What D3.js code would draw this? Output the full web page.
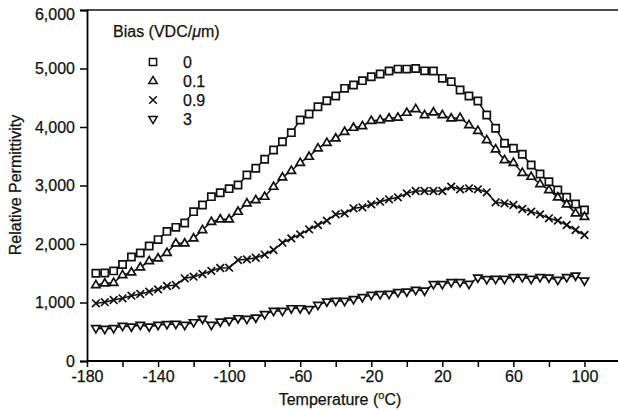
<!DOCTYPE html>
<html>
<head>
<meta charset="utf-8">
<script src="https://cdn.jsdelivr.net/npm/d3@7"></script>
<style>
  body { margin: 0; background: #fff; }
  svg { display: block; }
  text { font-family: "Liberation Sans", Arial, Helvetica, sans-serif; fill: #111; stroke: #111; stroke-width: 0.25; }
</style>
</head>
<body>
<div id="chart"></div>
<script>
// temperature (°C) of each measurement
const temps = [
  -175, -170, -165, -160, -155, -150, -145, -140, -135, -130, -125, -120, -115, -110,
  -105, -100, -95, -90, -85, -80, -75, -70, -65, -60, -55, -50, -45, -40,
  -35, -30, -25, -20, -15, -10, -5, 0, 5, 10, 15, 20, 25, 30,
  35, 40, 45, 50, 55, 60, 65, 70, 75, 80, 85, 90, 95, 100
];

// relative permittivity per bias field (VDC/um)
const bias0 = [
  1500, 1505, 1540, 1650, 1778, 1846, 1966, 2075, 2215, 2285, 2360, 2553, 2667, 2809,
  2877, 2946, 3009, 3180, 3294, 3448, 3607, 3749, 3903, 4120, 4222, 4347, 4450, 4530,
  4661, 4718, 4792, 4860, 4906, 4957, 4990, 4990, 5000, 4960, 4957, 4832, 4775, 4632,
  4530, 4444, 4205, 3978, 3721, 3636, 3533, 3350, 3197, 3065, 2923, 2798, 2684, 2581
];
const bias01 = [
  1299, 1328, 1338, 1470, 1516, 1601, 1709, 1755, 1851, 2012, 2012, 2097, 2239, 2381,
  2422, 2422, 2553, 2696, 2752, 2809, 2980, 3140, 3253, 3390, 3493, 3636, 3732, 3806,
  3920, 3989, 4017, 4108, 4120, 4148, 4162, 4245, 4308, 4205, 4251, 4205, 4148, 4159,
  4034, 3937, 3778, 3619, 3436, 3390, 3219, 3151, 3026, 2923, 2798, 2678, 2524, 2467
];
const bias09 = [
  986, 1005, 1043, 1072, 1116, 1145, 1185, 1225, 1282, 1299, 1414, 1441, 1487, 1540,
  1590, 1595, 1726, 1738, 1765, 1820, 1897, 2022, 2097, 2165, 2251, 2325, 2399, 2507,
  2524, 2610, 2627, 2678, 2723, 2764, 2798, 2866, 2906, 2906, 2906, 2906, 2980, 2935,
  2952, 2935, 2884, 2713, 2696, 2667, 2598, 2553, 2507, 2439, 2399, 2325, 2239, 2154
];
const bias3 = [
  559, 547, 559, 598, 587, 615, 587, 615, 627, 632, 615, 661, 720, 615,
  672, 689, 729, 718, 741, 798, 855, 855, 900, 900, 884, 957, 1014, 1026,
  1026, 1055, 1089, 1128, 1140, 1145, 1174, 1185, 1214, 1202, 1311, 1311, 1345, 1345,
  1316, 1424, 1397, 1402, 1402, 1431, 1431, 1402, 1431, 1424, 1385, 1431, 1459, 1373
];

const seriesLabels = ['0', '0.1', '0.9', '3'];
const seriesSymbols = ['square', 'triangle', 'cross', 'triangleDown'];
const seriesValues = [bias0, bias01, bias09, bias3];

const xTicks = [-180, -160, -140, -120, -100, -80, -60, -40, -20, 0, 20, 40, 60, 80, 100];
const xTickLabels = [-180, -140, -100, -60, -20, 20, 60, 100];
const yTicks = [0, 1000, 2000, 3000, 4000, 5000, 6000];

const width = 618, height = 411;
const svg = d3.select('#chart').append('svg')
  .attr('width', width).attr('height', height)
  .attr('viewBox', `0 0 ${width} ${height}`);

const x = d3.scaleLinear().domain([-180, 120]).range([87, 620]);
const y = d3.scaleLinear().domain([0, 6000]).range([361, 10]);

function markerPath(type) {
  switch (type) {
    case 'square': return 'M-3.6,-3.6H3.6V3.6H-3.6Z';
    case 'triangle': return 'M0,-4.6L4.2,2.6H-4.2Z';
    case 'triangleDown': return 'M0,4.6L4.2,-2.6H-4.2Z';
    case 'cross': return 'M-3.8,-3.8L3.8,3.8M-3.8,3.8L3.8,-3.8';
  }
}

// frame: top rule, left and bottom axes
svg.append('line')
  .attr('x1', x(-180)).attr('x2', width).attr('y1', y(6000)).attr('y2', y(6000))
  .attr('stroke', '#111').attr('stroke-width', 1.6);

const fmtX = d => (d < 0 ? '-' : '') + Math.abs(d);
const xAxis = svg.append('g').attr('transform', `translate(0,${y(0)})`)
  .call(d3.axisBottom(x).tickValues(xTicks).tickSize(6).tickPadding(4)
    .tickFormat(d => xTickLabels.includes(d) ? fmtX(d) : ''));
xAxis.select('.domain').attr('stroke-width', 1.8).attr('d', `M${x(-180)},0H${width}`);
xAxis.selectAll('.tick line').attr('stroke-width', 1.5);
xAxis.selectAll('text').attr('font-size', 16).attr('fill', '#111');

const yAxis = svg.append('g').attr('transform', `translate(${x(-180)},0)`)
  .call(d3.axisLeft(y).tickValues(yTicks).tickSize(7).tickPadding(5).tickFormat(d3.format(',')));
yAxis.select('.domain').attr('stroke-width', 1.8);
yAxis.selectAll('.tick line').attr('stroke-width', 1.5);
yAxis.selectAll('text').attr('font-size', 16).attr('fill', '#111');
yAxis.selectAll('.tick').filter(d => d === 6000).select('text').attr('dy', '0.6em');

// axis titles
svg.append('text')
  .attr('x', 340).attr('y', 405)
  .attr('text-anchor', 'middle').attr('font-size', 16)
  .html('Temperature (<tspan font-size="11" dy="-6">o</tspan><tspan dy="6">C)</tspan>');

svg.append('text')
  .attr('transform', 'translate(21,185) rotate(-90)')
  .attr('text-anchor', 'middle').attr('font-size', 16)
  .text('Relative Permittivity');

// series
const line = d3.line().x((d, i) => x(temps[i])).y(d => y(d));
seriesValues.forEach((vals, s) => {
  const g = svg.append('g');
  g.append('path').datum(vals)
    .attr('d', line).attr('fill', 'none')
    .attr('stroke', '#111').attr('stroke-width', 1.5);
  g.selectAll('path.mark').data(vals).join('path')
    .attr('class', 'mark')
    .attr('transform', (d, i) => `translate(${x(temps[i])},${y(d)})`)
    .attr('d', markerPath(seriesSymbols[s]))
    .attr('fill', seriesSymbols[s] === 'cross' ? 'none' : '#fff')
    .attr('stroke', '#111').attr('stroke-width', 1.7);
});

// legend
const legend = svg.append('g');
legend.append('text')
  .attr('x', 113).attr('y', 37).attr('font-size', 16)
  .html('Bias (VDC/<tspan font-style="italic">μ</tspan>m)');
seriesLabels.forEach((lab, i) => {
  const cy = 62 + i * 19;
  legend.append('path')
    .attr('transform', `translate(153,${cy})`)
    .attr('d', markerPath(seriesSymbols[i]))
    .attr('fill', seriesSymbols[i] === 'cross' ? 'none' : '#fff')
    .attr('stroke', '#111').attr('stroke-width', 1.5);
  legend.append('text')
    .attr('x', 183).attr('y', cy + 6).attr('font-size', 16)
    .text(lab);
});
</script>
</body>
</html>
